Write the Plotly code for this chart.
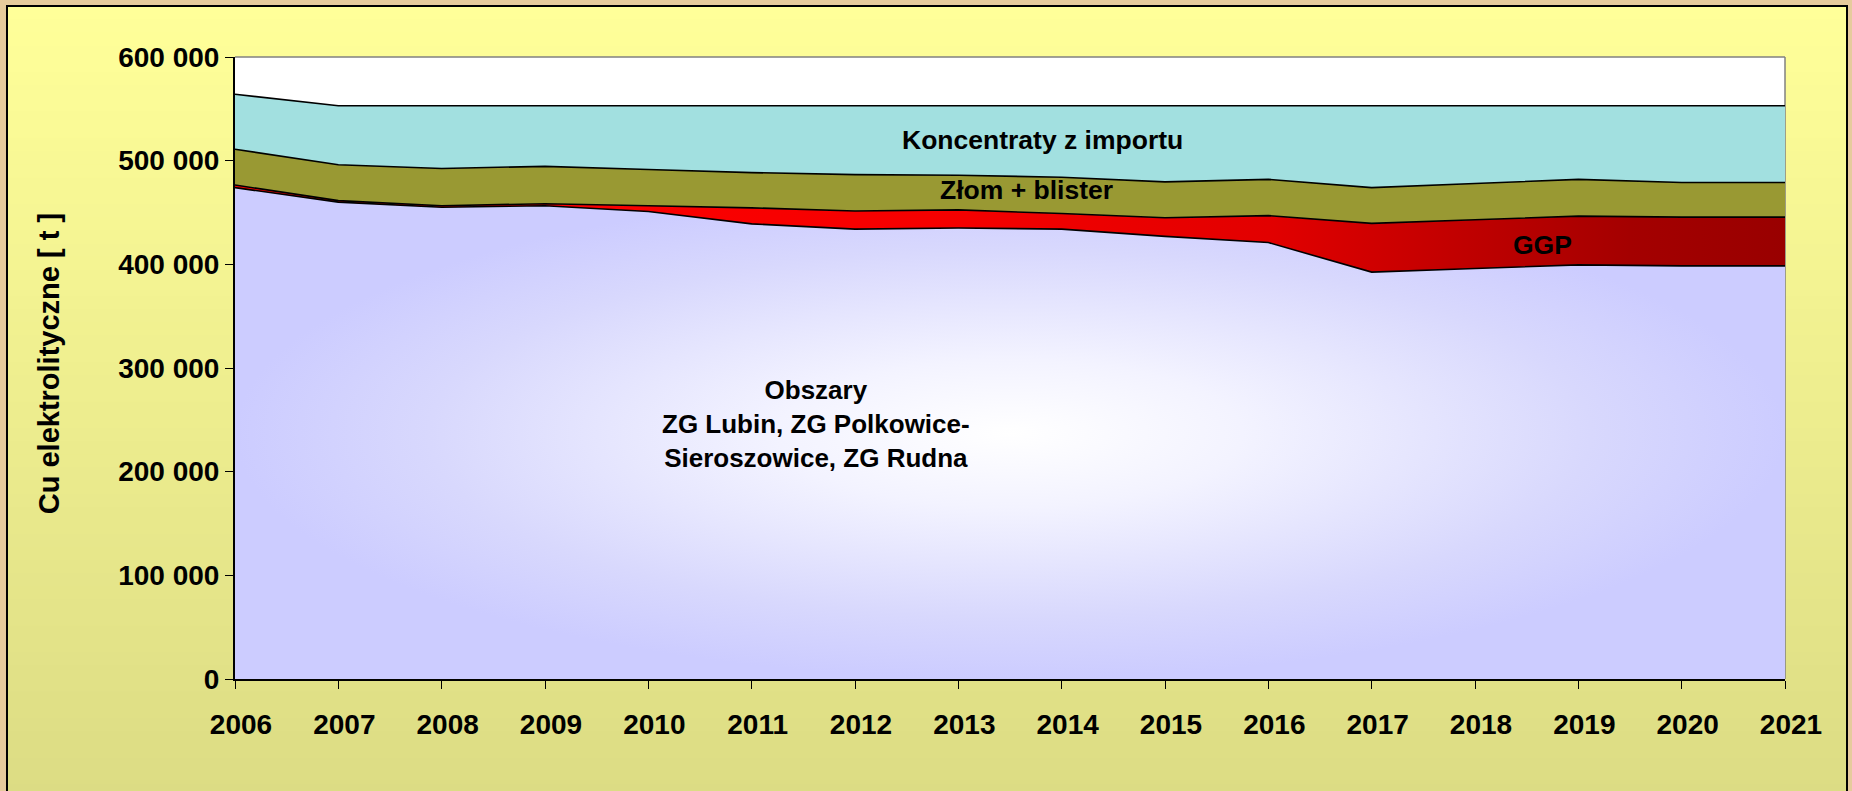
import plotly.graph_objects as go

# ---------------- data ----------------
years = [2006, 2007, 2008, 2009, 2010, 2011, 2012, 2013,
         2014, 2015, 2016, 2017, 2018, 2019, 2020, 2021]
obszary = [474000, 460000, 455000, 456500, 451000, 439000, 434000, 435000,
           434000, 427000, 421000, 392500, 396000, 399500, 398500, 398500]
ggp = [2500, 1500, 1500, 2000, 5500, 15500, 17500, 17500,
       15000, 18000, 26000, 47000, 47000, 47000, 47000, 47000]
zlom = [34500, 34500, 36000, 36000, 35000, 34000, 35000, 33500,
        35000, 34500, 35000, 34500, 35000, 35500, 33500, 33500]
koncentraty = [53000, 57000, 60500, 58500, 61500, 64500, 66500, 67000,
               69000, 73500, 71000, 79000, 75000, 71000, 74000, 74000]

y_tick_vals = [0, 100000, 200000, 300000, 400000, 500000, 600000]
y_tick_text = ["0", "100 000", "200 000", "300 000", "400 000", "500 000", "600 000"]
x_tick_text = [str(y) for y in years]

FONT = "Liberation Sans, Arial, sans-serif"
LINE = dict(color="black", width=1.6)
OUTER = "#E6CB9C"

fig = go.Figure()

fig.add_trace(go.Scatter(
    x=years, y=obszary, stackgroup="one", mode="lines", line=LINE,
    name="Obszary ZG Lubin, ZG Polkowice-Sieroszowice, ZG Rudna",
    fillgradient=dict(type="radial",
                      colorscale=[[0, "#FFFFFF"], [0.3, "#F3F3FF"], [0.75, "#D8D8FD"], [1, "#CCCCFF"]]),
))
fig.add_trace(go.Scatter(
    x=years, y=ggp, stackgroup="one", mode="lines", line=LINE, name="GGP",
    fillgradient=dict(type="horizontal",
                      colorscale=[[0, "#FF0000"], [0.45, "#F60000"], [0.667, "#E20000"],
                                  [0.8, "#BE0000"], [0.9, "#A40000"], [1, "#990000"]]),
))
fig.add_trace(go.Scatter(
    x=years, y=zlom, stackgroup="one", mode="lines", line=LINE,
    fillcolor="#999933", name="Złom + blister",
))
fig.add_trace(go.Scatter(
    x=years, y=koncentraty, stackgroup="one", mode="lines", line=LINE,
    fillcolor="#A2E0E0", name="Koncentraty z importu",
))

# ------------- background panel (gradient yellow) -------------
shapes = []
y_top, y_bot = 1.082, -0.19
x_l, x_r = -0.1471, 1.0400
n = 60
c_top = (255, 255, 153)
c_bot = (220, 220, 132)
for i in range(n):
    t = i / (n - 1)
    col = tuple(round(c_top[k] + (c_bot[k] - c_top[k]) * t) for k in range(3))
    y0 = y_top - (y_top - y_bot) * i / n
    y1 = y_top - (y_top - y_bot) * (i + 1) / n
    shapes.append(dict(type="rect", xref="paper", yref="paper", x0=x_l, x1=x_r,
                       y0=y1 - 0.002, y1=y0, layer="below", line=dict(width=0),
                       fillcolor="rgb(%d,%d,%d)" % col))
# panel border
shapes.append(dict(type="rect", xref="paper", yref="paper", x0=x_l, x1=x_r,
                   y0=y_bot, y1=y_top, layer="below",
                   line=dict(color="black", width=2), fillcolor="rgba(0,0,0,0)"))
# white plot area
shapes.append(dict(type="rect", xref="paper", yref="paper", x0=0, x1=1, y0=0, y1=1,
                   layer="below", line=dict(width=0), fillcolor="white"))
# gray top / right frame
shapes.append(dict(type="line", xref="paper", yref="paper", x0=0, x1=1, y0=1, y1=1,
                   line=dict(color="#808080", width=1.5)))
shapes.append(dict(type="line", xref="paper", yref="paper", x0=1, x1=1, y0=0, y1=1,
                   line=dict(color="#808080", width=1.5), layer="below"))

ann_font = dict(family=FONT, size=26.5, color="black", weight="bold")
annotations = [
    dict(x=2013.81, y=519900, text="Koncentraty z importu", showarrow=False, font=ann_font),
    dict(x=2013.66, y=471700, text="Złom + blister", showarrow=False, font=ann_font),
    dict(x=2018.65, y=418600, text="GGP", showarrow=False, font=ann_font),
    dict(x=2011.62, y=246000, text="Obszary<br>ZG Lubin, ZG Polkowice-<br>Sieroszowice, ZG Rudna",
         showarrow=False, font=dict(family=FONT, size=26, color="black", weight="bold"),
         align="center"),
    dict(x=-0.12, y=0.506, xref="paper", yref="paper", text="Cu elektrolityczne [ t ]",
         textangle=-90, showarrow=False, xanchor="center", yanchor="middle",
         font=dict(family=FONT, size=29, color="black", weight="bold")),
]

fig.update_layout(
    width=1852, height=791,
    margin=dict(l=235, r=67, t=57, b=112),
    paper_bgcolor=OUTER,
    plot_bgcolor="white",
    showlegend=False,
    shapes=shapes,
    annotations=annotations,
    font=dict(family=FONT, color="black"),
    xaxis=dict(
        range=[2006, 2021], tickmode="array", tickvals=years, ticktext=x_tick_text,
        showgrid=False, zeroline=False, showline=True, linecolor="black", linewidth=2,
        ticks="outside", ticklen=8, tickcolor="black", tickwidth=1,
        ticklabelstandoff=11, ticklabelshift=6,
        tickfont=dict(family=FONT, size=28, color="black", weight="bold"),
    ),
    yaxis=dict(
        range=[0, 600000], tickmode="array", tickvals=y_tick_vals, ticktext=y_tick_text,
        showgrid=False, zeroline=False, showline=True, linecolor="black", linewidth=2,
        ticks="outside", ticklen=8, tickcolor="black", tickwidth=1,
        tickfont=dict(family=FONT, size=28, color="black", weight="bold"),
    ),
)

fig.write_html(
    "out.html",
    config={"displayModeBar": False},
    post_script="document.body.style.margin='0';document.body.style.overflow='hidden';"
                "document.body.style.background='" + OUTER + "';",
)
